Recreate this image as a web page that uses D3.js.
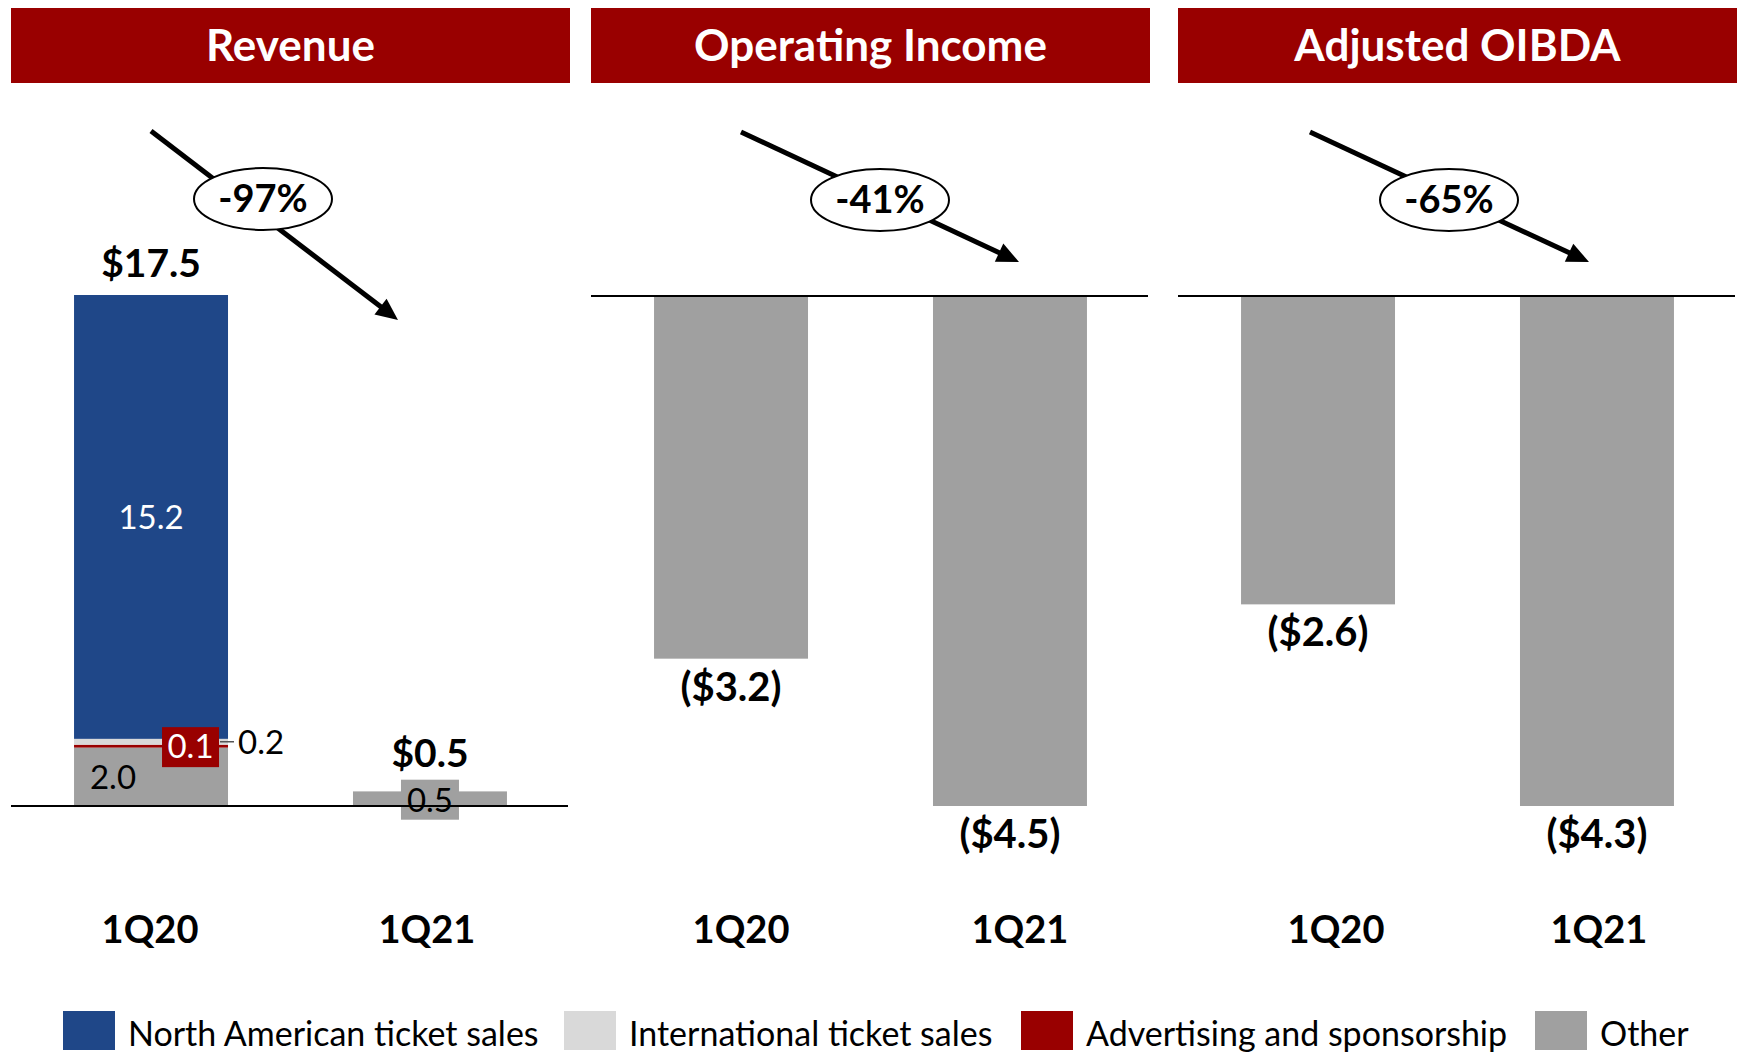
<!DOCTYPE html>
<html>
<head>
<meta charset="utf-8">
<script src="https://cdn.jsdelivr.net/npm/d3@7"></script>
<style>
  body { margin: 0; background: #fff; }
  text { font-family: Lato, "Open Sans", sans-serif; }
</style>
</head>
<body>
<div id="grafico"></div>
<script>
// Area de dibujo
const WIDTH = 1739;
const HEIGHT = 1054;

// Datos (millones de $)
const quarters = ["1Q20", "1Q21"];
const panelTitles = ["Revenue", "Operating Income", "Adjusted OIBDA"];
const changeLabels = ["-97%", "-41%", "-65%"];
const revenueKeys = ["Other", "Advertising and sponsorship", "International ticket sales", "North American ticket sales"];
const otherRevenue = [2.0, 0.5];
const advertisingRevenue = [0.1, 0.0];
const internationalRevenue = [0.2, 0.0];
const northAmericaRevenue = [15.2, 0.0];
const operatingIncome = [-3.2, -4.5];
const adjustedOibda = [-2.6, -4.3];
const legendNames = ["North American ticket sales", "International ticket sales", "Advertising and sponsorship", "Other"];

// colores
const colors = {
  "North American ticket sales": "#1F4788",
  "International ticket sales": "#D9D9D9",
  "Advertising and sponsorship": "#990000",
  "Other": "#A0A0A0"
};
const HEADER_COLOR = "#990000";
const GREY = "#A0A0A0";

// paneles
var panelX = [11, 591, 1178];
var panelW = 559;
var topY = 296;      // eje cero de los paneles negativos
var bottomY = 806;   // fondo de las barras mas largas
var catY = 943;
// pequeño desplazamiento de las etiquetas de trimestre en cada panel
var catShift = [[-1, -3], [10, 10], [18, 2]];

var svg = d3.select("#grafico")
  .append("svg")
  .attr("width", WIDTH)
  .attr("height", HEIGHT);

// escala de bandas comun a los tres paneles
var x = d3.scaleBand()
  .domain(quarters)
  .range([0, panelW])
  .paddingInner(0.448)
  .paddingOuter(0.226);

var fmt = d3.format(".1f");

// cabeceras
panelTitles.forEach(function (t, i) {
  var g = svg.append("g").attr("transform", "translate(" + panelX[i] + ",0)");
  g.append("rect")
    .attr("x", 0).attr("y", 8)
    .attr("width", panelW).attr("height", 75)
    .attr("fill", HEADER_COLOR);
  g.append("text")
    .attr("x", panelW / 2).attr("y", 61)
    .attr("text-anchor", "middle")
    .attr("fill", "#fff")
    .style("font-weight", "bold")
    .style("font-size", "44px")
    .text(t);
});

// ---------- Panel 1: Revenue (barras apiladas) ----------
var tabla = quarters.map(function (q, i) {
  return {
    quarter: q,
    "Other": otherRevenue[i],
    "Advertising and sponsorship": advertisingRevenue[i],
    "International ticket sales": internationalRevenue[i],
    "North American ticket sales": northAmericaRevenue[i]
  };
});
var totals = tabla.map(function (d) {
  return d3.sum(revenueKeys, function (k) { return d[k]; });
});

var yRev = d3.scaleLinear()
  .domain([0, d3.max(totals)])
  .range([bottomY, 295]);

var series = d3.stack().keys(revenueKeys)(tabla);

var g1 = svg.append("g").attr("transform", "translate(" + panelX[0] + ",0)");

g1.selectAll("g.serie")
  .data(series)
  .enter()
  .append("g")
  .attr("class", "serie")
  .attr("fill", function (s) { return colors[s.key]; })
  .selectAll("rect")
  .data(function (s) { return s; })
  .enter()
  .append("rect")
  .attr("x", function (d) { return x(d.data.quarter); })
  .attr("width", x.bandwidth())
  .attr("y", function (d) { return yRev(d[1]); })
  .attr("height", function (d) { return yRev(d[0]) - yRev(d[1]); });

// etiquetas de los segmentos
var LBL = "33px";
series.forEach(function (s) {
  s.forEach(function (d) {
    var v = d[1] - d[0];
    if (v <= 0.001) return;
    var cx = x(d.data.quarter) + x.bandwidth() / 2;
    var cy = (yRev(d[0]) + yRev(d[1])) / 2;
    var txt = fmt(v);
    if (s.key == "North American ticket sales") {
      g1.append("text")
        .attr("x", cx).attr("y", cy + 12)
        .attr("text-anchor", "middle")
        .attr("fill", "#fff")
        .style("font-size", LBL)
        .text(txt);
    } else if (s.key == "International ticket sales") {
      var xr = x(d.data.quarter) + x.bandwidth();
      g1.append("line")
        .attr("x1", xr - 8).attr("x2", xr + 6)
        .attr("y1", cy).attr("y2", cy)
        .attr("stroke", "#555").attr("stroke-width", 1.5);
      g1.append("text")
        .attr("x", xr + 10).attr("y", cy + 12)
        .attr("fill", "#000")
        .style("font-size", LBL)
        .text(txt);
    } else if (s.key == "Advertising and sponsorship") {
      g1.append("rect")
        .attr("x", cx + 11).attr("y", cy - 19)
        .attr("width", 57).attr("height", 40)
        .attr("fill", colors[s.key]);
      g1.append("text")
        .attr("x", cx + 39.5).attr("y", cy + 12)
        .attr("text-anchor", "middle")
        .attr("fill", "#fff")
        .style("font-size", LBL)
        .text(txt);
    } else {
      if (d.data.quarter == quarters[0]) {
        g1.append("text")
          .attr("x", cx - 38).attr("y", cy + 12)
          .attr("text-anchor", "middle")
          .attr("fill", "#000")
          .style("font-size", LBL)
          .text(txt);
      } else {
        g1.append("rect")
          .attr("x", cx - 29).attr("y", cy - 19)
          .attr("width", 58).attr("height", 40)
          .attr("fill", GREY);
        g1.append("text")
          .attr("x", cx).attr("y", cy + 13)
          .attr("text-anchor", "middle")
          .attr("fill", "#000")
          .style("font-size", LBL)
          .text(txt);
      }
    }
  });
});

// totales encima
g1.selectAll("text.total")
  .data(quarters)
  .enter()
  .append("text")
  .attr("class", "total")
  .attr("x", function (q) { return x(q) + x.bandwidth() / 2; })
  .attr("y", function (q, i) { return i == 0 ? yRev(totals[i]) - 18 : yRev(totals[i]) - 24; })
  .attr("text-anchor", "middle")
  .style("font-weight", "bold")
  .style("font-size", "39px")
  .text(function (q, i) { return "$" + fmt(totals[i]); });

g1.append("line")
  .attr("x1", 0).attr("x2", panelW - 2)
  .attr("y1", yRev(0)).attr("y2", yRev(0))
  .attr("stroke", "#000").attr("stroke-width", 2);

// ---------- Paneles 2 y 3: valores negativos ----------
function panelNegativo(i, valores) {
  var g = svg.append("g").attr("transform", "translate(" + panelX[i] + ",0)");
  var y = d3.scaleLinear()
    .domain([0, d3.min(valores)])
    .range([topY, bottomY]);

  g.selectAll("rect.barra")
    .data(valores)
    .enter()
    .append("rect")
    .attr("class", "barra")
    .attr("x", function (v, j) { return x(quarters[j]); })
    .attr("width", x.bandwidth())
    .attr("y", y(0))
    .attr("height", function (v) { return y(v) - y(0); })
    .attr("fill", GREY);

  g.selectAll("text.valor")
    .data(valores)
    .enter()
    .append("text")
    .attr("class", "valor")
    .attr("x", function (v, j) { return x(quarters[j]) + x.bandwidth() / 2; })
    .attr("y", function (v) { return y(v) + 42; })
    .attr("text-anchor", "middle")
    .style("font-weight", "bold")
    .style("font-size", "40px")
    .text(function (v) { return "($" + fmt(Math.abs(v)) + ")"; });

  g.append("line")
    .attr("x1", 0).attr("x2", panelW - 2)
    .attr("y1", y(0)).attr("y2", y(0))
    .attr("stroke", "#000").attr("stroke-width", 2);
  return g;
}
var g2 = panelNegativo(1, operatingIncome);
var g3 = panelNegativo(2, adjustedOibda);

// etiquetas de trimestre
[g1, g2, g3].forEach(function (g, p) {
  g.selectAll("text.cat")
    .data(quarters)
    .enter()
    .append("text")
    .attr("class", "cat")
    .attr("x", function (q, j) { return x(q) + x.bandwidth() / 2 + catShift[p][j]; })
    .attr("y", catY)
    .attr("text-anchor", "middle")
    .style("font-weight", "bold")
    .style("font-size", "38px")
    .text(function (q) { return q; });
});

// ---------- Flechas de variacion ----------
// inicio, punta y centro de la elipse (relativos a cada panel)
var flechas = [
  { x1: 140, y1: 131, x2: 387, y2: 320, ex: 252, ey: 199 },
  { x1: 150, y1: 132, x2: 428, y2: 262, ex: 289, ey: 200 },
  { x1: 132, y1: 132, x2: 411, y2: 262, ex: 271, ey: 200 }
];
flechas.forEach(function (f, i) {
  var g = svg.append("g").attr("transform", "translate(" + panelX[i] + ",0)");
  var dx = f.x2 - f.x1, dy = f.y2 - f.y1;
  var len = Math.sqrt(dx * dx + dy * dy);
  var ux = dx / len, uy = dy / len;
  var headL = 22, headW = 10;
  var bx = f.x2 - ux * headL, by = f.y2 - uy * headL;
  g.append("line")
    .attr("x1", f.x1).attr("y1", f.y1)
    .attr("x2", bx + ux * 2).attr("y2", by + uy * 2)
    .attr("stroke", "#000").attr("stroke-width", 5);
  g.append("path")
    .attr("d", "M" + f.x2 + "," + f.y2 +
      "L" + (bx - uy * headW) + "," + (by + ux * headW) +
      "L" + (bx + uy * headW) + "," + (by - ux * headW) + "Z")
    .attr("fill", "#000");
  g.append("ellipse")
    .attr("cx", f.ex).attr("cy", f.ey)
    .attr("rx", 69).attr("ry", 31)
    .attr("fill", "#fff")
    .attr("stroke", "#000").attr("stroke-width", 2);
  g.append("text")
    .attr("x", f.ex).attr("y", f.ey + 13)
    .attr("text-anchor", "middle")
    .style("font-weight", "bold")
    .style("font-size", "38px")
    .text(changeLabels[i]);
});

// ---------- Leyenda ----------
var legendX = [63, 564, 1021, 1535];
var leyenda = svg.append("g");
legendNames.forEach(function (n, i) {
  leyenda.append("rect")
    .attr("x", legendX[i]).attr("y", 1011)
    .attr("width", 52).attr("height", 39)
    .attr("fill", colors[n]);
  leyenda.append("text")
    .attr("x", legendX[i] + 65).attr("y", 1046)
    .style("font-size", "34px")
    .text(n);
});
</script>
</body>
</html>
